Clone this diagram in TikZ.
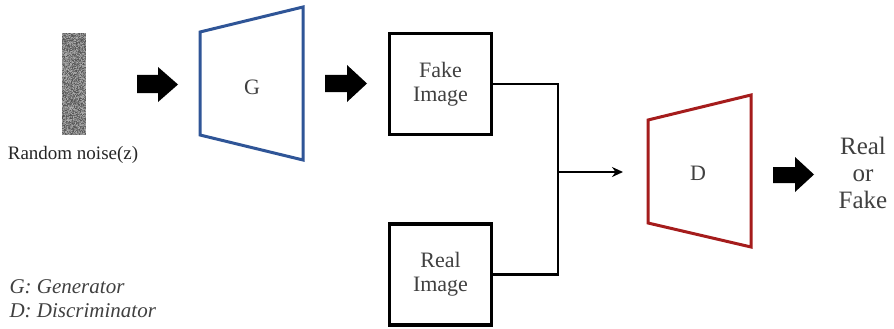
\documentclass[tikz,border=0pt]{standalone}
\usepackage{fontspec}
\setmainfont{Liberation Serif}
\usetikzlibrary{arrows.meta,calc}
\definecolor{genblue}{HTML}{2F5597}
\definecolor{discred}{HTML}{A51C1C}
\definecolor{txtgray}{HTML}{404040}
\tikzset{
  imgbox/.style={draw=black, line width=3.4pt, minimum width=102pt, minimum height=101pt,
    align=center, font=\fontsize{22}{24}\selectfont, text=txtgray, inner sep=0pt},
  netlabel/.style={font=\fontsize{22}{24}\selectfont, text=txtgray},
  wire/.style={line width=2.3pt, draw=black},
  blockarrow/.style={fill=black, draw=none},
}
\begin{document}
\begin{tikzpicture}[x=1pt, y=-1pt]
  \useasboundingbox (0,0) rectangle (894,329);

  % random noise input
  \pgfmathsetseed{42}
  \foreach \i in {0,...,23} {
    \foreach \j in {0,...,101} {
      \pgfmathsetmacro{\shade}{int(32+36*rnd)}
      \fill[black!\shade] ({62+\i},{33+\j}) rectangle ++(1.05,1.05);
    }
  }
  \node (noise) at (74,84) [minimum width=24pt, minimum height=102pt, inner sep=0pt] {};
  \node (noiselabel) at (73,155) [font=\fontsize{19}{20}\selectfont, text=black!85] {Random noise(z)};

  % generator
  \draw[genblue, line width=3pt, line join=miter] (200,32) -- (303,7) -- (303,160) -- (200,135) -- cycle;
  \node[netlabel] (G) at (252,87) {G};

  % images
  \node[imgbox] (fake) at (440.5,84) {Fake\\Image};
  \node[imgbox] (real) at (440.5,274.5) {Real\\Image};

  % discriminator
  \draw[discred, line width=3pt, line join=miter] (648,120) -- (751,95) -- (751,247) -- (648,223) -- cycle;
  \node[netlabel] (D) at (698,173) {D};

  % output
  \node (out) at (863,173) [align=center, font=\fontsize{25}{27}\selectfont, text=txtgray] {Real\\or\\Fake};

  % block arrows
  \fill[blockarrow] (137,75) -- (158,75) -- (158,67) -- (178,84.5) -- (158,102) -- (158,93) -- (137,93) -- cycle;
  \fill[blockarrow] (325,75) -- (347,75) -- (347,65) -- (367,83.5) -- (347,102) -- (347,92) -- (325,92) -- cycle;
  \fill[blockarrow] (773,167) -- (795,167) -- (795,157) -- (814,174.5) -- (795,192) -- (795,183) -- (773,183) -- cycle;

  % merge of fake and real images into D
  \coordinate (jtop) at (558,84);
  \coordinate (jmid) at (558,172);
  \coordinate (dinput) at (623,172);
  \draw[wire, line join=miter] (fake.east) -- (jtop) -- (jtop |- real.east) -- (real.east);
  \draw[wire, -{Stealth[length=11pt, width=10pt]}] (jmid) -- (dinput);

  % legend
  \node (legend) at (6,317) [anchor=base west, align=left, font=\itshape\fontsize{21}{24}\selectfont, text=txtgray] {G: Generator\\D: Discriminator};
\end{tikzpicture}
\end{document}
